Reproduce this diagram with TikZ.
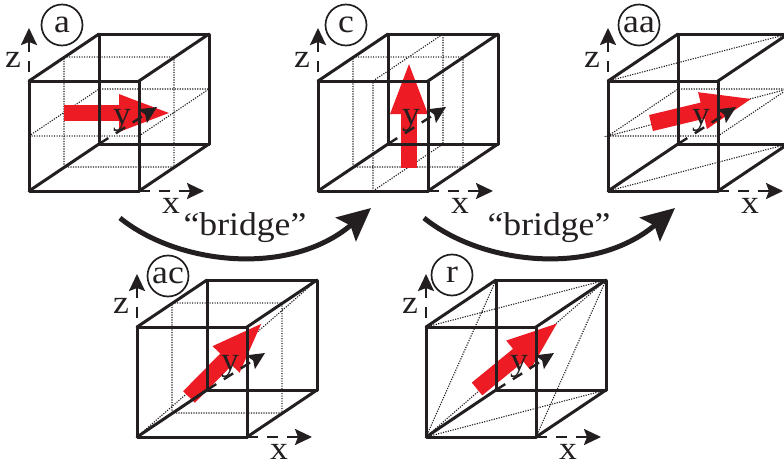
\documentclass[tikz,border=0pt]{standalone}
\usepackage{fontspec}
\setmainfont[FakeStretch=1.08]{Liberation Serif}
\usetikzlibrary{arrows.meta}
\definecolor{redarrow}{HTML}{ED1C24}
\definecolor{ink}{HTML}{231F20}
\tikzset{
  edgeline/.style={draw=ink,line width=3pt,line join=round,line cap=round},
  dotline/.style={draw=ink,line width=1.1pt,dash pattern=on 1.2pt off 1.3pt},
  axisline/.style={draw=ink,line width=2.4pt,dash pattern=on 11pt off 9pt,
     -{Stealth[length=17pt,width=16pt,inset=3pt]}},
  redline/.style={draw=redarrow,line width=16.5pt,
     -{Triangle[length=54pt,width=33pt]}},
  bridgeline/.style={draw=ink,line width=5pt,
     -{Stealth[length=33pt,width=31pt,inset=6pt]}},
  axislabel/.style={font=\fontsize{33}{33}\selectfont,text=ink,inner sep=0pt},
  bridgelabel/.style={font=\fontsize{33}{33}\selectfont,text=ink,inner sep=0pt},
  statelabel/.style={circle,draw=ink,line width=1.7pt,minimum size=41pt,inner sep=0pt,
     font=\fontsize{33}{33}\selectfont,text=ink},
}
% #1 name, #2 origin, #3 dotted paths, #4 red tail, #5 red tip, #6 label x offset, #7 label y offset, #8 text
\newcommand{\cubeframe}[8]{%
  \begin{scope}[shift={(#2)}]
    \coordinate (#1o) at (0,0);
    \coordinate (#1r) at (110,0);
    \coordinate (#1rt) at (110,-110);
    \coordinate (#1t) at (0,-110);
    \coordinate (#1bo) at (70,-47);
    \coordinate (#1br) at (180,-47);
    \coordinate (#1brt) at (180,-157);
    \coordinate (#1bt) at (70,-157);
    \draw[dotline] #3;
    \draw[redline] (#4) -- (#5);
    \draw[edgeline] (#1bo) -- (#1br) -- (#1brt) -- (#1bt) -- cycle;
    \draw[edgeline] (#1o) -- (#1bo) (#1r) -- (#1br) (#1rt) -- (#1brt) (#1t) -- (#1bt);
    \draw[edgeline] (#1o) -- (#1r) -- (#1rt) -- (#1t) -- cycle;
    \coordinate (#1xe) at (175,0);
    \coordinate (#1ze) at (0,-163);
    \coordinate (#1zs) at (0,-119);
    \coordinate (#1ye) at (128,-84);
    \draw[axisline] (#1r) -- (#1xe);
    \draw[axisline] (#1zs) -- (#1ze);
    \draw[axisline] (#1bo) -- (#1ye);
    \node[axislabel] (#1xl) at (142,14.5) {x};
    \node[axislabel] (#1yl) at (93,-71) {y};
    \node[axislabel] (#1zl) at (-16,-131) {z};
    \node[statelabel] (#1s) at (#6,#7) {#8};
  \end{scope}}
\begin{document}
\begin{tikzpicture}[x=1pt,y=-1pt]
\useasboundingbox (0,0) rectangle (784,463);
\cubeframe{a}{29,191}{%
  (0,-55) -- (110,-55) -- (180,-102) -- (70,-102) -- cycle
  (35,-24) rectangle (145,-134)}{35,-78}{144,-78}{33}{-166}{a}
\cubeframe{c}{318,191}{%
  (35,-24) rectangle (145,-134)
  (55,0) -- (55,-110) -- (125,-157) -- (125,-47) -- cycle}{91,-23}{91,-131}{28}{-166}{c}
\cubeframe{e}{608,191}{%
  (0,-110) -- (180,-157)
  (0,0) -- (180,-47)
  (0,-55) -- (70,-102) -- (180,-102) -- (0,-55) -- (110,-55) -- (180,-102)}{43,-68}{147,-93}{31}{-166}{aa}
\cubeframe{f}{137,437}{%
  (35,-24) rectangle (145,-134)
  (0,0) -- (180,-157)}{52,-40}{127,-116}{31}{-161}{ac}
\cubeframe{r}{426,437}{%
  (0,0) -- (70,-157)
  (0,-110) -- (180,-157)
  (0,0) -- (180,-47)
  (110,0) -- (180,-157)
  (0,0) -- (180,-157)}{51,-48}{134,-116}{26}{-162}{r}
\coordinate (bas) at (120,218);
\coordinate (bae) at (371,208);
\coordinate (bbs) at (424,218);
\coordinate (bbe) at (675,208);
\draw[bridgeline] (bas) .. controls (178,265) and (290,277) .. (bae);
\draw[bridgeline] (bbs) .. controls (482,265) and (594,277) .. (bbe);
\node[bridgelabel] (bal) at (245,228) {“bridge”};
\node[bridgelabel] (bbl) at (549,228) {“bridge”};
\end{tikzpicture}
\end{document}
